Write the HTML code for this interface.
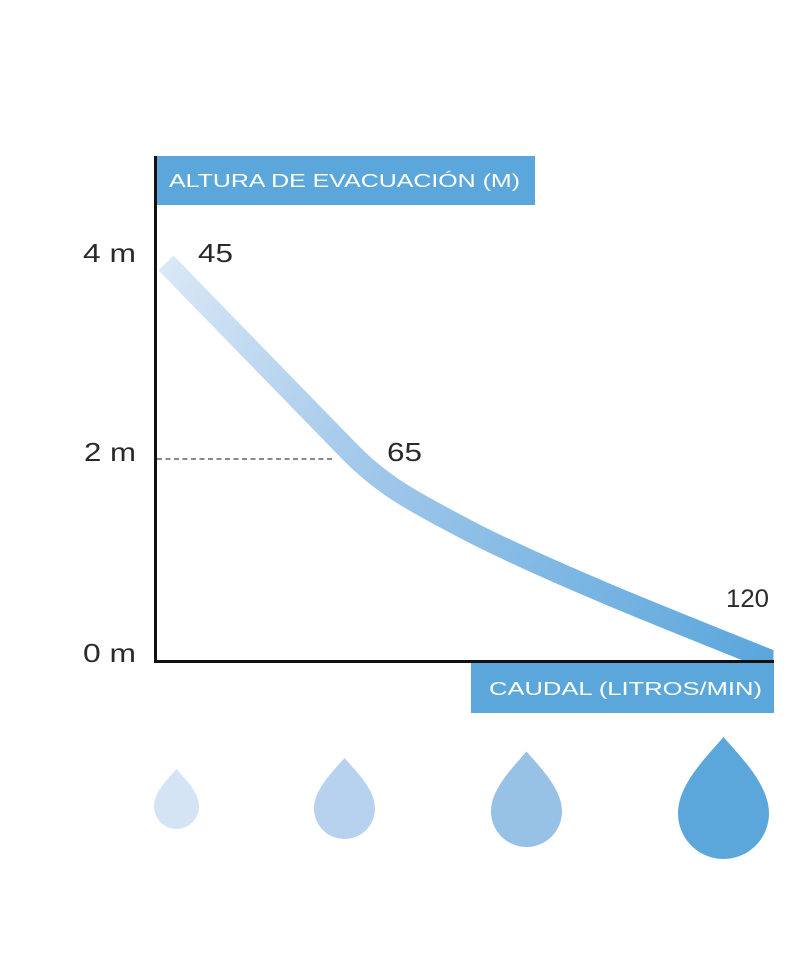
<!DOCTYPE html>
<html>
<head>
<meta charset="utf-8">
<style>
  html, body { margin: 0; padding: 0; background: #ffffff; }
  svg { display: block; }
  text { font-family: "Liberation Sans", "DejaVu Sans", sans-serif; }
</style>
</head>
<body>
<svg width="800" height="960" viewBox="0 0 800 960" xmlns="http://www.w3.org/2000/svg">
  <defs>
    <linearGradient id="curveGrad" gradientUnits="userSpaceOnUse" x1="166" y1="263" x2="773" y2="660">
      <stop offset="0" stop-color="#d9e8f6"/>
      <stop offset="0.35" stop-color="#a6caeb"/>
      <stop offset="1" stop-color="#5aa6dc"/>
    </linearGradient>
    <clipPath id="plotClip">
      <rect x="150" y="150" width="623.5" height="511"/>
    </clipPath>
  </defs>

  <rect x="0" y="0" width="800" height="960" fill="#ffffff"/>

  <!-- Top axis title box -->
  <rect x="155" y="156" width="380" height="49" fill="#5ba7dc"/>
  <text x="169" y="187" font-size="18.5" fill="#ffffff" textLength="351" lengthAdjust="spacingAndGlyphs">ALTURA DE EVACUACIÓN (M)</text>

  <!-- Bottom axis title box -->
  <rect x="471" y="663" width="303" height="50" fill="#5ba7dc"/>
  <text x="489" y="695" font-size="18.5" fill="#ffffff" textLength="273" lengthAdjust="spacingAndGlyphs">CAUDAL (LITROS/MIN)</text>

  <!-- Dotted guide line -->
  <line x1="157" y1="459" x2="335" y2="459" stroke="#8a8a8a" stroke-width="2" stroke-dasharray="5,3.5"/>

  <!-- Curve -->
  <g clip-path="url(#plotClip)">
    <path d="M166,263 L350,452 C385,488 420,505 473,533 C560,577 680,624 800,672"
          fill="none" stroke="url(#curveGrad)" stroke-width="21" stroke-linecap="butt"/>
  </g>

  <!-- Axes -->
  <rect x="154" y="156" width="3" height="507" fill="#111111"/>
  <rect x="154" y="660" width="620" height="3" fill="#111111"/>

  <!-- Y labels -->
  <text x="83" y="262" font-size="26" fill="#2a2a2a" textLength="53" lengthAdjust="spacingAndGlyphs">4 m</text>
  <text x="84" y="461" font-size="26" fill="#2a2a2a" textLength="52" lengthAdjust="spacingAndGlyphs">2 m</text>
  <text x="83" y="662" font-size="26" fill="#2a2a2a" textLength="53" lengthAdjust="spacingAndGlyphs">0 m</text>

  <!-- Point labels -->
  <text x="198" y="262" font-size="26" fill="#2a2a2a" textLength="35" lengthAdjust="spacingAndGlyphs">45</text>
  <text x="387" y="461" font-size="26" fill="#2a2a2a" textLength="35" lengthAdjust="spacingAndGlyphs">65</text>
  <text x="726" y="607" font-size="25" fill="#2a2a2a" textLength="43" lengthAdjust="spacingAndGlyphs">120</text>

  <!-- Drops -->
  <path d="M176.5,769 C185.5,779.5 199,792 199,806.5 A22.5,22.5 0 0 1 154,806.5 C154,792 167.5,779.5 176.5,769 Z" fill="#d5e4f4"/>
  <path d="M344.5,758 C356.7,772 375,789.5 375,808.5 A30.5,30.5 0 0 1 314,808.5 C314,789.5 332.3,772 344.5,758 Z" fill="#b7d2ee"/>
  <path d="M526.5,751.5 C540.7,768 562,789 562,811.5 A35.5,35.5 0 0 1 491,811.5 C491,789 512.3,768 526.5,751.5 Z" fill="#98c1e6"/>
  <path d="M723.5,737 C741.7,758 769,785 769,813.5 A45.5,45.5 0 0 1 678,813.5 C678,785 705.3,758 723.5,737 Z" fill="#5ba7dc"/>
</svg>
</body>
</html>
